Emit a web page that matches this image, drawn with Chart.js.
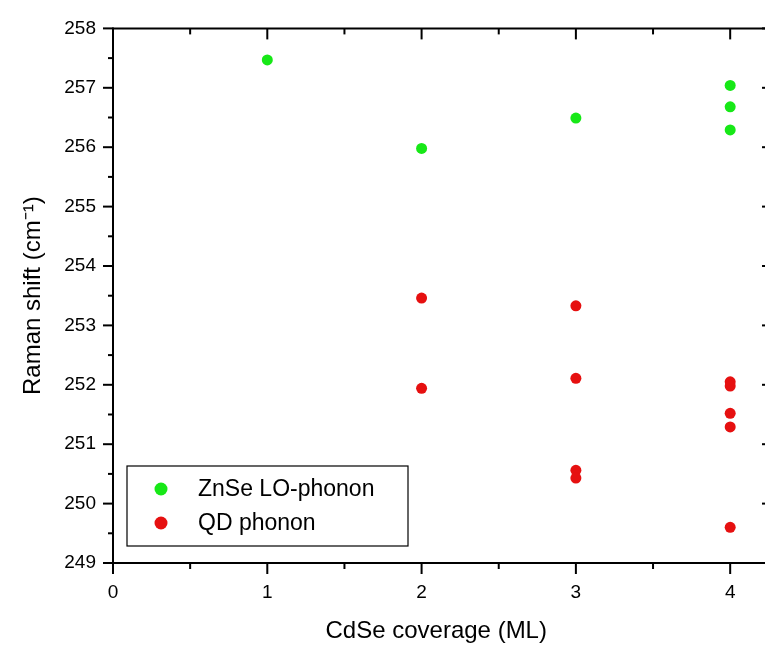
<!DOCTYPE html>
<html>
<head>
<meta charset="utf-8">
<script src="https://cdn.jsdelivr.net/npm/chart.js@4"></script>
<style>
  body { margin: 0; background: #fff; }
</style>
</head>
<body>
<canvas id="chart" width="765" height="649"></canvas>
<script>
// data
var seriesNames = ["ZnSe LO-phonon", "QD phonon"];
var coverageZnSe = [1, 2, 3, 4, 4, 4];
var shiftZnSe = [257.47, 255.98, 256.49, 257.04, 256.68, 256.29];
var coverageQD = [2, 2, 3, 3, 3, 3, 4, 4, 4, 4, 4];
var shiftQD = [253.46, 251.94, 253.33, 252.11, 250.56, 250.43, 252.05, 251.98, 251.52, 251.29, 249.60];
var xTicks = [0, 1, 2, 3, 4];
var yTicks = [249, 250, 251, 252, 253, 254, 255, 256, 257, 258];

var green = "#17e817";
var red = "#e61010";
var font = "Arial, 'Liberation Sans', sans-serif";

function toPoints(xs, ys) {
  return xs.map(function (x, i) { return { x: x, y: ys[i] }; });
}

function line(ctx, x1, y1, x2, y2) {
  ctx.beginPath();
  ctx.moveTo(x1, y1);
  ctx.lineTo(x2, y2);
  ctx.stroke();
}

// axis frame, minor ticks and the boxed legend
var framePlugin = {
  id: "frame",
  afterDatasetsDraw: function (chart) {
    var ctx = chart.ctx, a = chart.chartArea;
    var xs = chart.scales.x, ys = chart.scales.y;
    // right axis sits just past the canvas edge in the original
    var rightEdge = chart.width + 5;
    ctx.save();
    ctx.strokeStyle = "#000";
    ctx.lineWidth = 2;
    line(ctx, a.left, a.top, chart.width, a.top);
    line(ctx, a.left, a.bottom, chart.width, a.bottom);
    line(ctx, a.left, a.top - 1, a.left, a.bottom + 1);

    for (var v = 0; v <= 4.2; v += 0.5) {
      var px = xs.getPixelForValue(v);
      var major = xTicks.indexOf(v) >= 0;
      var L = major ? 11 : 6;
      line(ctx, px, a.bottom, px, a.bottom + L);
      line(ctx, px, a.top, px, a.top + L);
    }
    for (var w = 249; w <= 258; w += 0.5) {
      var py = ys.getPixelForValue(w);
      var maj = yTicks.indexOf(w) >= 0;
      var T = maj ? 10 : 5;
      line(ctx, a.left - T, py, a.left, py);
      line(ctx, rightEdge - (maj ? 8 : 4), py, rightEdge, py);
    }

    // legend
    var bx = a.left + 14, by = a.bottom - 97, bw = 281, bh = 80;
    ctx.lineWidth = 1.2;
    ctx.strokeRect(bx, by, bw, bh);
    var cols = [green, red];
    ctx.font = "23px " + font;
    ctx.textBaseline = "middle";
    for (var i = 0; i < seriesNames.length; i++) {
      var cy = by + 23 + i * 34;
      ctx.beginPath();
      ctx.arc(bx + 34, cy, 6.5, 0, Math.PI * 2);
      ctx.fillStyle = cols[i];
      ctx.fill();
      ctx.fillStyle = "#000";
      ctx.fillText(seriesNames[i], bx + 71, cy + 1);
    }
    ctx.restore();
  }
};

new Chart(document.getElementById("chart"), {
  type: "scatter",
  data: {
    datasets: [
      {
        label: seriesNames[0],
        data: toPoints(coverageZnSe, shiftZnSe),
        backgroundColor: green,
        borderWidth: 0,
        pointRadius: 5.5,
        pointHoverRadius: 5.5
      },
      {
        label: seriesNames[1],
        data: toPoints(coverageQD, shiftQD),
        backgroundColor: red,
        borderWidth: 0,
        pointRadius: 5.5,
        pointHoverRadius: 5.5
      }
    ]
  },
  options: {
    responsive: false,
    animation: false,
    layout: { padding: { left: 0, right: 0, top: 24, bottom: 0 } },
    plugins: {
      legend: { display: false },
      tooltip: { enabled: false }
    },
    scales: {
      x: {
        type: "linear",
        min: 0,
        max: 4.19,
        afterBuildTicks: function (scale) {
          scale.ticks = xTicks.map(function (v) { return { value: v }; });
        },
        afterFit: function (scale) { scale.height = 86; },
        grid: { display: false, drawTicks: false, tickLength: 0 },
        border: { display: false },
        ticks: {
          padding: 18,
          color: "#000",
          maxRotation: 0,
          font: { family: font, size: 19 }
        },
        title: {
          display: true,
          text: "CdSe coverage (ML)",
          color: "#000",
          font: { family: font, size: 24 },
          padding: { top: 0, bottom: 3 }
        }
      },
      y: {
        type: "linear",
        min: 249,
        max: 258,
        afterBuildTicks: function (scale) {
          scale.ticks = yTicks.map(function (v) { return { value: v }; });
        },
        afterFit: function (scale) { scale.width = 113; },
        grid: { display: false, drawTicks: false, tickLength: 0 },
        border: { display: false },
        ticks: {
          padding: 17,
          color: "#000",
          font: { family: font, size: 19 }
        },
        title: {
          display: true,
          text: "Raman shift (cm\u207B\u00B9)",
          color: "#000",
          font: { family: font, size: 24 },
          padding: { top: 19, bottom: 0 }
        }
      }
    }
  },
  plugins: [framePlugin]
});
</script>
</body>
</html>
